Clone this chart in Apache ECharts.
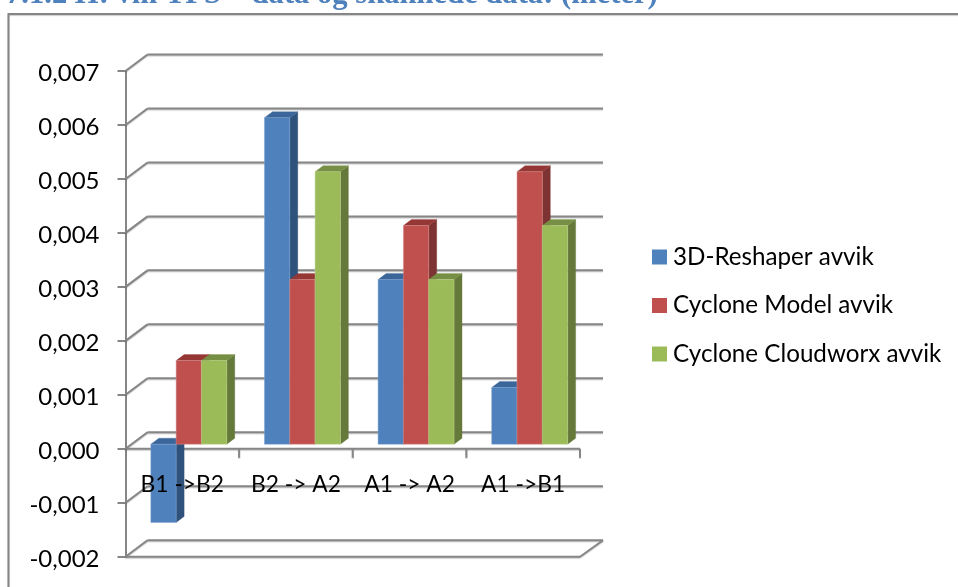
<!DOCTYPE html>
<html>
<head>
<meta charset="utf-8">
<title>avvik</title>
<style>
  html, body { margin: 0; padding: 0; background: #fff; }
  #chart { width: 958px; height: 587px; }
</style>
<script src="https://cdn.jsdelivr.net/npm/echarts@6/dist/echarts.min.js"></script>
</head>
<body>
<div id="chart"></div>
<script>
const categories = ['B1 ->B2', 'B2 -> A2', 'A1 -> A2', 'A1 ->B1']
const seriesNames = ['3D-Reshaper avvik', 'Cyclone Model avvik', 'Cyclone Cloudworx avvik']
const reshaper = [-0.00145, 0.00605, 0.00305, 0.00105]
const cycloneModel = [0.00155, 0.00305, 0.00405, 0.00505]
const cycloneCloudworx = [0.00155, 0.00505, 0.00305, 0.00405]
const yTicks = [-0.002, -0.001, 0, 0.001, 0.002, 0.003, 0.004, 0.005, 0.006, 0.007]

const headingText = '7.1.2 H: vm TPS – data og skannede data: (meter)'
const labelFont = 'Lato'
const lineColor = '#868686'
const wall = { dx: 22, dy: -16.5 } // back wall offset
const plane = { dx: 6.5, dy: -4.6 } // bars stand a bit in from the front
const depth = { dx: 8, dy: -6 } // bar depth
const barRatio = 0.2228

const faces = [
  { front: '#4f81bd', side: '#2f527c', top: '#3b669a', edge: '#7ea3d0' },
  { front: '#c0504d', side: '#7d3331', top: '#953735', edge: '#d78f8d' },
  { front: '#9bbb59', side: '#65793a', top: '#768f44', edge: '#bcd38d' }
]

const lineStyle = {
  stroke: lineColor,
  lineWidth: 2,
  shadowColor: 'rgba(0,0,0,0.22)',
  shadowBlur: 1,
  shadowOffsetY: 1
}

function line(x1, y1, x2, y2) {
  return { type: 'line', shape: { x1, y1, x2, y2 }, style: lineStyle }
}

function poly(points, fill, stroke) {
  return {
    type: 'polygon',
    shape: { points },
    style: { fill, stroke: stroke || fill, lineWidth: stroke ? 0.5 : 0.3 }
  }
}

// wall lines, floor and the front axis with its ticks
function renderFrame(params, api) {
  const value = api.value(0)
  const cs = params.coordSys
  const left = cs.x
  const right = cs.x + cs.width
  const y = api.coord([0, value])[1]
  const children = [
    line(left, y, left + wall.dx, y + wall.dy),
    line(left + wall.dx, y + wall.dy, right + wall.dx + 1, y + wall.dy)
  ]
  if (value === yTicks[0]) {
    children.push(line(left, y, right, y))
    children.push(line(right, y, right + wall.dx + 1, y + wall.dy))
  }
  if (value === 0) {
    children.push(line(left, y, right, y))
    categories.forEach(function(c, i) {
      const tx = left + (i + 1) * cs.width / categories.length
      children.push(line(tx, y, tx, y + 9))
    })
  }
  return { type: 'group', children }
}

function renderBar(seriesIndex) {
  return function(params, api) {
    const cat = api.value(0)
    const base = api.coord([cat, 0])
    const tip = api.coord([cat, api.value(1)])
    const w = api.size([1, 0])[0] * barRatio
    const x0 = base[0] + plane.dx - 1.5 * w + seriesIndex * w
    const x1 = x0 + w
    const yTop = Math.min(base[1], tip[1]) + plane.dy
    const yBot = Math.max(base[1], tip[1]) + plane.dy
    const f = faces[seriesIndex]
    return {
      type: 'group',
      children: [
        poly([[x1, yTop], [x1 + depth.dx, yTop + depth.dy], [x1 + depth.dx, yBot + depth.dy], [x1, yBot]], f.side),
        poly([[x0, yTop], [x0 + depth.dx, yTop + depth.dy], [x1 + depth.dx, yTop + depth.dy], [x1, yTop]], f.top),
        poly([[x0, yTop], [x1, yTop], [x1, yBot], [x0, yBot]], f.front, f.edge)
      ]
    }
  }
}

function barSeries(i, values) {
  return {
    name: seriesNames[i],
    type: 'custom',
    z: 3 + i,
    clip: false,
    itemStyle: { color: faces[i].front },
    renderItem: renderBar(i),
    encode: { x: 0, y: 1 },
    data: values.map(function(v, c) { return [c, v] })
  }
}

const chart = echarts.init(document.getElementById('chart'))
chart.setOption({
  animation: false,
  backgroundColor: '#fff',
  grid: { left: 125.5, right: 378, top: 71, bottom: 30.3, outerBoundsMode: 'none' },
  legend: {
    left: 652,
    top: 245,
    orient: 'vertical',
    icon: 'rect',
    itemWidth: 15,
    itemHeight: 15,
    itemGap: 24.5,
    padding: 0,
    data: seriesNames,
    textStyle: { fontFamily: labelFont, fontSize: 24.2, color: '#000', padding: [0, 0, 0, 1] }
  },
  xAxis: {
    type: 'category',
    data: categories,
    z: 10,
    position: 'bottom',
    offset: -108, // labels hang under the zero line
    axisLine: { show: false, onZero: false },
    axisTick: { show: false },
    axisLabel: { margin: 24, interval: 0, color: '#000', fontFamily: labelFont, fontSize: 22.8 }
  },
  yAxis: {
    type: 'value',
    min: -0.002,
    max: 0.007,
    interval: 0.001,
    splitLine: { show: false },
    axisLine: { show: true, onZero: false, lineStyle: { color: lineColor, width: 2 } },
    axisTick: { show: true, length: 8, lineStyle: { color: lineColor, width: 2 } },
    axisLabel: {
      margin: 26,
      color: '#000',
      fontFamily: labelFont,
      fontSize: 24,
      verticalAlign: 'top',
      lineHeight: 5,
      formatter: function(v) { return v.toFixed(3).replace('.', ',') }
    }
  },
  series: [
    {
      type: 'custom',
      z: 1,
      clip: false,
      silent: true,
      renderItem: renderFrame,
      encode: { y: 0 },
      data: yTicks.map(function(t) { return [t] })
    },
    barSeries(0, reshaper),
    barSeries(1, cycloneModel),
    barSeries(2, cycloneCloudworx)
  ],
  graphic: [
    {
      type: 'polyline',
      silent: true,
      shape: { points: [[8.5, 588], [8.5, 14], [959, 14]] },
      style: { stroke: lineColor, lineWidth: 2, fill: 'none', shadowColor: 'rgba(0,0,0,0.2)', shadowBlur: 1, shadowOffsetY: 1 }
    },
    {
      type: 'text',
      silent: true,
      left: 6,
      top: -20,
      style: {
        text: headingText,
        fill: '#4f81bd',
        font: 'bold 30.6px "Liberation Serif"'
      }
    }
  ]
})
</script>
</body>
</html>
